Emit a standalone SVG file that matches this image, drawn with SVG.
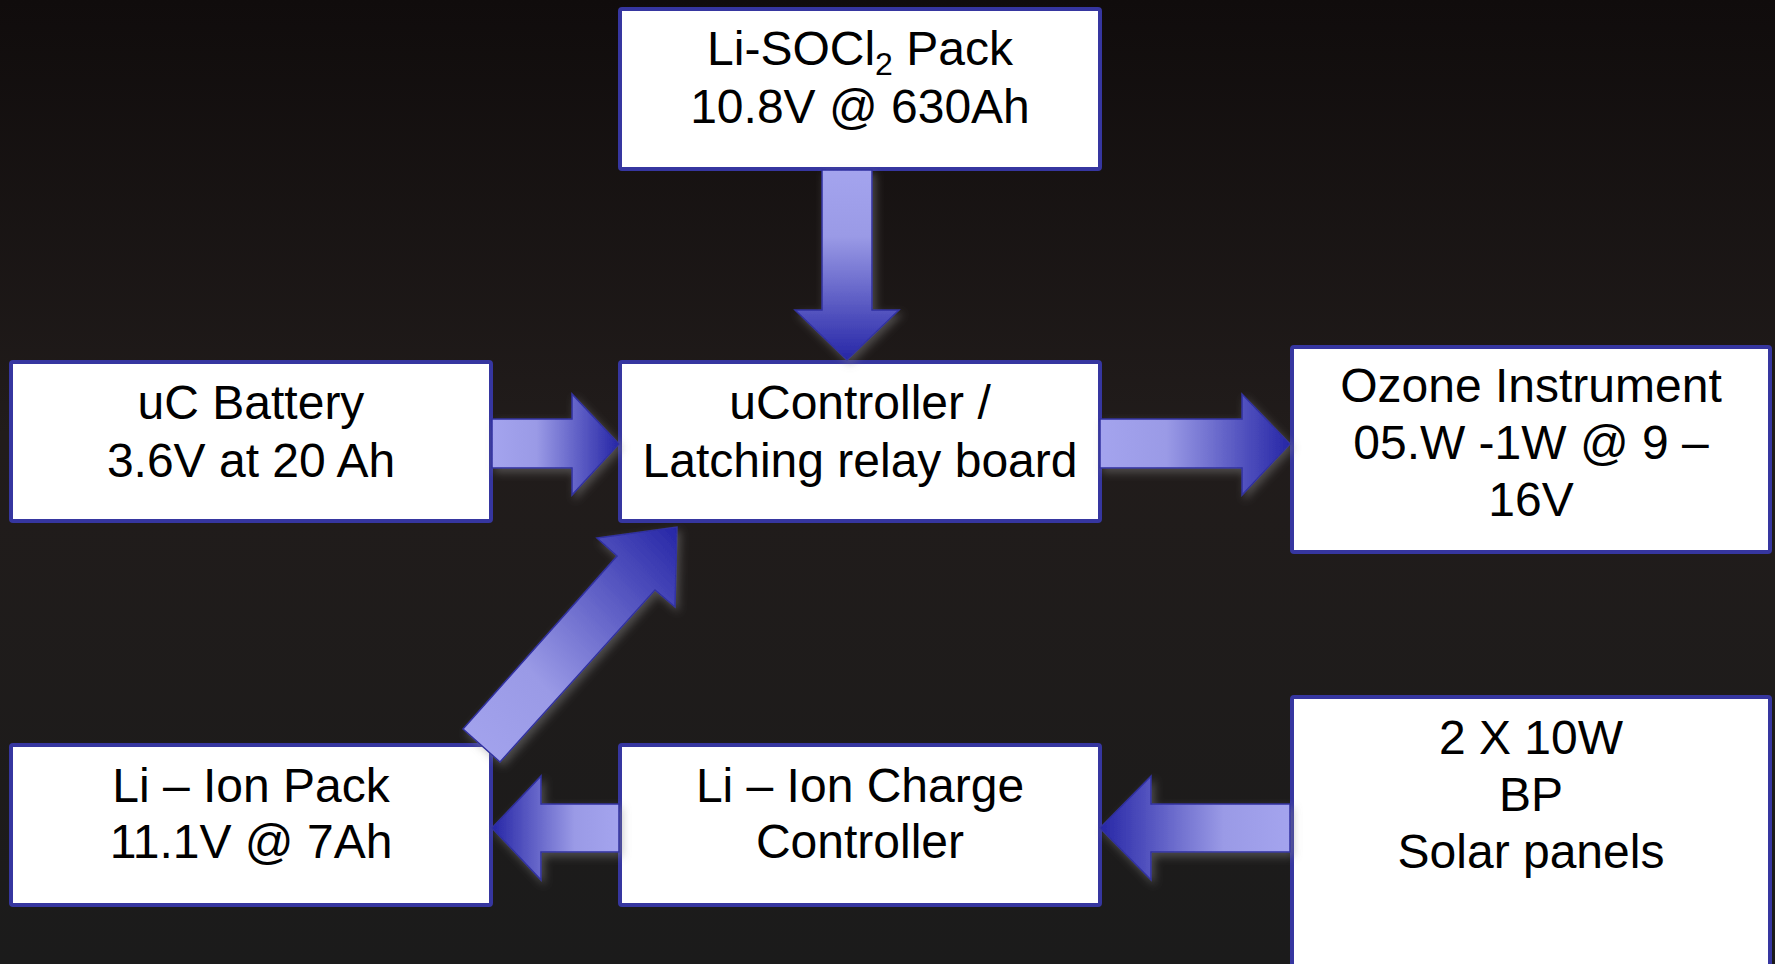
<svg xmlns="http://www.w3.org/2000/svg" width="1775" height="964" viewBox="0 0 1775 964">
<defs>
<style>
.box{fill:#ffffff;stroke:#3636a0;stroke-width:4}
.t{font-family:"Liberation Sans",Arial,sans-serif;font-size:48px;fill:#000;text-anchor:middle}
.arr{stroke:#3030a0;stroke-width:1.5;stroke-linejoin:miter}
</style>
<linearGradient id="bg" x1="0" y1="0" x2="0" y2="1">
<stop offset="0" stop-color="#100c0c"/>
<stop offset="0.45" stop-color="#211c1b"/>
<stop offset="1" stop-color="#1b1b1b"/>
</linearGradient>
<linearGradient id="gR" x1="0" y1="0" x2="1" y2="0">
<stop offset="0" stop-color="#a4a4ee"/>
<stop offset="0.35" stop-color="#9a9ae6"/>
<stop offset="1" stop-color="#2626a6"/>
</linearGradient>
<linearGradient id="gL" x1="1" y1="0" x2="0" y2="0">
<stop offset="0" stop-color="#a4a4ee"/>
<stop offset="0.35" stop-color="#9a9ae6"/>
<stop offset="1" stop-color="#2626a6"/>
</linearGradient>
<linearGradient id="gD" x1="0" y1="0" x2="0" y2="1">
<stop offset="0" stop-color="#a4a4ee"/>
<stop offset="0.35" stop-color="#9a9ae6"/>
<stop offset="1" stop-color="#2626a6"/>
</linearGradient>
<linearGradient id="gU" x1="0" y1="1" x2="1" y2="0">
<stop offset="0" stop-color="#a4a4ee"/>
<stop offset="0.35" stop-color="#9a9ae6"/>
<stop offset="1" stop-color="#2626a6"/>
</linearGradient>
<filter id="sh" x="-20%" y="-20%" width="140%" height="140%">
<feDropShadow dx="3" dy="4" stdDeviation="4" flood-color="#8a8a8a" flood-opacity="0.45"/>
</filter>
</defs>
<rect x="0" y="0" width="1775" height="964" fill="url(#bg)"/>

<g id="node-lisocl2">
<rect class="box" x="620" y="9" width="480" height="160" rx="2"/>
<text class="t" x="860" y="65">Li-SOCl<tspan font-size="32" dy="10">2</tspan><tspan dy="-10"> Pack</tspan></text>
<text class="t" x="860" y="123">10.8V  @ 630Ah</text>
</g>

<g id="node-ucontroller">
<rect class="box" x="620" y="362" width="480" height="159" rx="2"/>
<text class="t" x="860" y="419">uController /</text>
<text class="t" x="860" y="477">Latching relay board</text>
</g>

<g id="node-ucbattery">
<rect class="box" x="11" y="362" width="480" height="159" rx="2"/>
<text class="t" x="251" y="419">uC Battery</text>
<text class="t" x="251" y="477">3.6V at 20 Ah</text>
</g>

<g id="node-ozone">
<rect class="box" x="1292" y="347" width="478" height="205" rx="2"/>
<text class="t" x="1531" y="402">Ozone Instrument</text>
<text class="t" x="1531" y="459">05.W -1W @ 9 –</text>
<text class="t" x="1531" y="516">16V</text>
</g>

<g id="node-liionpack">
<rect class="box" x="11" y="745" width="480" height="160" rx="2"/>
<text class="t" x="251" y="802">Li – Ion Pack</text>
<text class="t" x="251" y="858">11.1V @ 7Ah</text>
</g>

<g id="node-charge">
<rect class="box" x="620" y="745" width="480" height="160" rx="2"/>
<text class="t" x="860" y="802">Li – Ion Charge</text>
<text class="t" x="860" y="858">Controller</text>
</g>

<g id="node-solar">
<rect class="box" x="1292" y="697" width="478" height="300" rx="2"/>
<text class="t" x="1531" y="754">2 X 10W</text>
<text class="t" x="1531" y="811">BP</text>
<text class="t" x="1531" y="868">Solar panels</text>
</g>

<g id="connectors" filter="url(#sh)">
<polygon class="arr" fill="url(#gD)" points="822,170 872,170 872,310 899,310 847,360 795,310 822,310"/>
<polygon class="arr" fill="url(#gR)" points="492,419 572,419 572,394 619,444 572,495 572,468 492,468"/>
<polygon class="arr" fill="url(#gR)" points="1100,419 1242,419 1242,394 1290,444 1242,495 1242,468 1100,468"/>
<polygon class="arr" fill="url(#gL)" points="619,804 541,804 541,776 492,828 541,880 541,852 619,852"/>
<polygon class="arr" fill="url(#gL)" points="1290,804 1151,804 1151,776 1100,828 1151,880 1151,852 1290,852"/>
<polygon class="arr" fill="url(#gU)" points="463,729 617,556 597,538 677,527 675,607 655,590 500,762"/>
</g>
</svg>
